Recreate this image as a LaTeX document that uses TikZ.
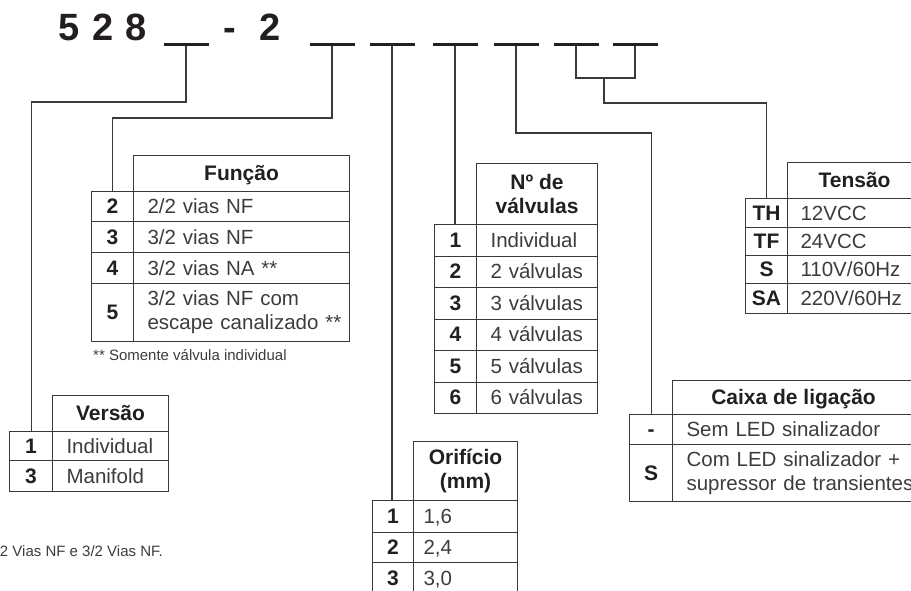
\documentclass[tikz,border=0pt]{standalone}
\usepackage{fontspec}
\newfontfamily\hel{Liberation Sans}
\definecolor{ink}{HTML}{231F20}
\definecolor{rule}{HTML}{3A3A3A}
\definecolor{soft}{HTML}{3C3C3C}
\tikzset{
  wire/.style={draw=rule,line width=1.1pt},
  slot/.style={fill=ink,minimum width=45pt,minimum height=2.2pt,inner sep=0pt},
  cell/.style={draw=rule,line width=1.1pt,anchor=north west,inner sep=0pt,text height=15pt,text depth=1pt},
  key/.style={cell,font=\hel\bfseries\fontsize{21}{24}\selectfont,text=ink},
  val/.style={cell,align=left,inner xsep=14pt,font=\hel\fontsize{20.5}{24}\selectfont,text=soft},
  head/.style={cell,align=center,font=\hel\bfseries\fontsize{21}{24}\selectfont,text=ink},
  twoline/.style={text height=,text depth=},
  note/.style={font=\hel\fontsize{15}{18}\selectfont,text=soft,inner sep=0pt},
  digits/.style={font=\hel\bfseries\fontsize{38}{40}\selectfont,text=ink,inner sep=0pt,anchor=base west}
}
\begin{document}
\begin{tikzpicture}[x=1pt,y=-1pt]
  \useasboundingbox (0,0) rectangle (911,590);
  \node[digits] (code) at (58.5,40) {5\hspace{12.4pt}2\hspace{12.4pt}8};
  \node[digits] (dash) at (223,40) {-};
  \node[digits] (two) at (259.5,40) {2};
  \node[slot] (s1) at (186,44.5) {};
  \node[slot] (s2) at (332,44.5) {};
  \node[slot] (s3) at (392,44.5) {};
  \node[slot] (s4) at (455,44.5) {};
  \node[slot] (s5) at (516,44.5) {};
  \node[slot] (s6) at (576,44.5) {};
  \node[slot] (s7) at (635,44.5) {};

  \node[head,minimum width=116pt,minimum height=36pt] (verT) at (52,395) {Versão};
  \node[key,minimum width=43pt,minimum height=29pt] (ver1) at (9,431) {1};
  \node[val,text width=88pt,minimum height=29pt] (ver1v) at (52,431) {Individual};
  \node[key,minimum width=43pt,minimum height=31pt] (ver3) at (9,460) {3};
  \node[val,text width=88pt,minimum height=31pt] (ver3v) at (52,460) {Manifold};

  \node[head,minimum width=216pt,minimum height=36pt] (funT) at (133,155) {Função};
  \node[key,minimum width=42pt,minimum height=30pt] (fun2) at (91,191) {2};
  \node[val,text width=188pt,minimum height=30pt] (fun2v) at (133,191) {2/2 vias NF};
  \node[key,minimum width=42pt,minimum height=31pt] (fun3) at (91,221) {3};
  \node[val,text width=188pt,minimum height=31pt] (fun3v) at (133,221) {3/2 vias NF};
  \node[key,minimum width=42pt,minimum height=31pt] (fun4) at (91,252) {4};
  \node[val,text width=188pt,minimum height=31pt] (fun4v) at (133,252) {3/2 vias NA **};
  \node[key,minimum width=42pt,minimum height=58pt] (fun5) at (91,283) {5};
  \node[val,twoline,text width=188pt,minimum height=58pt] (fun5v) at (133,283) {\mbox{3/2 vias NF com}\\\mbox{escape canalizado **}};
  \node[note,anchor=base west] (funN) at (93,360) {** Somente válvula individual};

  \node[head,twoline,minimum width=121pt,minimum height=61pt] (nvT) at (476,163) {Nº de\\válvulas};
  \node[key,minimum width=42pt,minimum height=31.5pt] (nv1) at (434,224) {1};
  \node[val,text width=93pt,minimum height=31.5pt] (nv1v) at (476,224) {Individual};
  \node[key,minimum width=42pt,minimum height=31.5pt] (nv2) at (434,255.5) {2};
  \node[val,text width=93pt,minimum height=31.5pt] (nv2v) at (476,255.5) {2 válvulas};
  \node[key,minimum width=42pt,minimum height=31.5pt] (nv3) at (434,287) {3};
  \node[val,text width=93pt,minimum height=31.5pt] (nv3v) at (476,287) {3 válvulas};
  \node[key,minimum width=42pt,minimum height=31.5pt] (nv4) at (434,318.5) {4};
  \node[val,text width=93pt,minimum height=31.5pt] (nv4v) at (476,318.5) {4 válvulas};
  \node[key,minimum width=42pt,minimum height=31.5pt] (nv5) at (434,350) {5};
  \node[val,text width=93pt,minimum height=31.5pt] (nv5v) at (476,350) {5 válvulas};
  \node[key,minimum width=42pt,minimum height=31.5pt] (nv6) at (434,381.5) {6};
  \node[val,text width=93pt,minimum height=31.5pt] (nv6v) at (476,381.5) {6 válvulas};

  \node[head,twoline,minimum width=104pt,minimum height=59pt] (oriT) at (413,441) {Orifício\\(mm)};
  \node[key,minimum width=41pt,minimum height=32pt] (ori1) at (372,500) {1};
  \node[val,inner xsep=10pt,text width=84pt,minimum height=32pt] (ori1v) at (413,500) {1,6};
  \node[key,minimum width=41pt,minimum height=30pt] (ori2) at (372,532) {2};
  \node[val,inner xsep=10pt,text width=84pt,minimum height=30pt] (ori2v) at (413,532) {2,4};
  \node[key,minimum width=41pt,minimum height=32pt] (ori3) at (372,562) {3};
  \node[val,inner xsep=10pt,text width=84pt,minimum height=32pt] (ori3v) at (413,562) {3,0};

  \node[head,minimum width=134pt,minimum height=36pt] (tenT) at (787,162) {Tensão};
  \node[key,minimum width=42pt,minimum height=29pt] (th) at (745,198) {TH};
  \node[val,inner xsep=13pt,text width=108pt,minimum height=29pt] (thv) at (787,198) {12VCC};
  \node[key,minimum width=42pt,minimum height=28pt] (tf) at (745,227) {TF};
  \node[val,inner xsep=13pt,text width=108pt,minimum height=28pt] (tfv) at (787,227) {24VCC};
  \node[key,minimum width=42pt,minimum height=28pt] (ts) at (745,255) {S};
  \node[val,inner xsep=13pt,text width=108pt,minimum height=28pt] (tsv) at (787,255) {110V/60Hz};
  \node[key,minimum width=42pt,minimum height=30pt] (tsa) at (745,283) {SA};
  \node[val,inner xsep=13pt,text width=108pt,minimum height=30pt] (tsav) at (787,283) {220V/60Hz};

  \node[head,minimum width=242pt,minimum height=34pt] (cxT) at (672,380) {Caixa de ligação};
  \node[key,minimum width=43pt,minimum height=30pt] (cx1) at (629,414) {-};
  \node[val,text width=214pt,minimum height=30pt] (cx1v) at (672,414) {Sem LED sinalizador};
  \node[key,minimum width=43pt,minimum height=57pt] (cx2) at (629,444) {S};
  \node[val,twoline,text width=214pt,minimum height=57pt] (cx2v) at (672,444) {\mbox{Com LED sinalizador +}\\\mbox{supressor de transientes}};

  \node[note,anchor=base east] (foot) at (163,556) {2 Vias NF e 3/2 Vias NF.};

  \draw[wire] (s1) -- (s1 |- 0,102) -| (ver1.north);
  \draw[wire] (s2) -- (s2 |- 0,118) -| (fun2.north);
  \draw[wire] (s3) -- (s3 |- ori1.north);
  \draw[wire] (s4) -- (s4 |- nv1.north);
  \draw[wire] (s5) -- (s5 |- 0,133) -| (cx1.north);
  \draw[wire] (s6) |- (s7 |- 0,78) -- (s7);
  \coordinate (fork) at (604,78);
  \draw[wire] (fork) -- (fork |- 0,103) -| (th.north);
\end{tikzpicture}
\end{document}
